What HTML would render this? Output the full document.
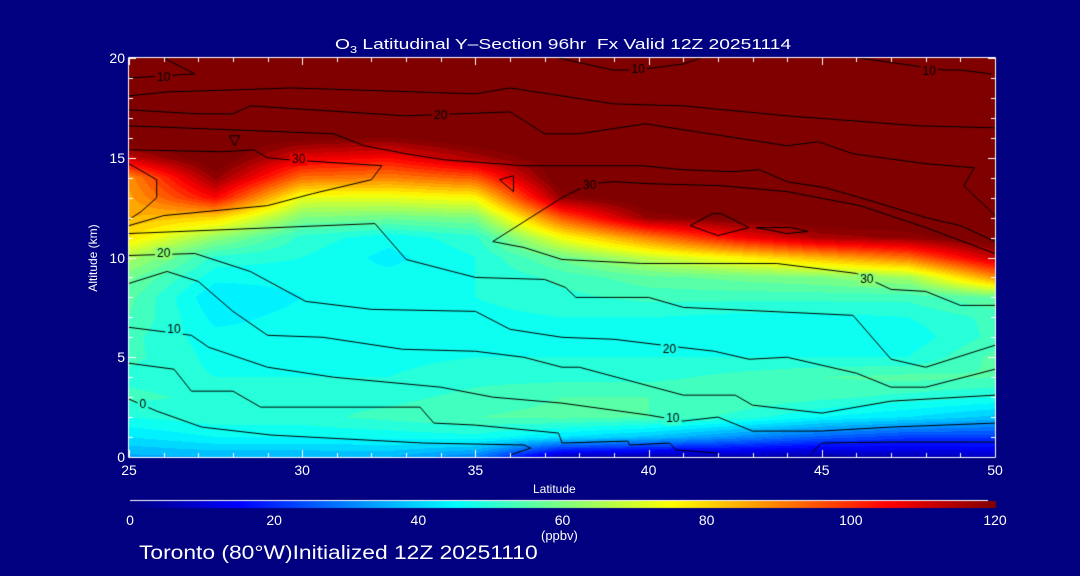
<!DOCTYPE html>
<html><head><meta charset="utf-8"><style>
html,body{margin:0;padding:0;background:#000080;}
#wrap{position:relative;width:1080px;height:576px;background:#000080;overflow:hidden;font-family:"Liberation Sans",sans-serif;color:#fff;}
.t{position:absolute;white-space:nowrap;font-size:13px;line-height:1;}
canvas{position:absolute;left:0;top:0;}
</style></head><body>
<div id="wrap">
<canvas id="cv" width="1080" height="576"></canvas>
<div class="t" style="left:335px;top:37px;font-size:15px;transform-origin:0 0;transform:scaleX(1.28);">O<sub style="font-size:10px">3</sub> Latitudinal Y&#8211;Section 96hr&nbsp; Fx Valid 12Z 20251114</div>
<div class="t" style="left:48px;top:252px;transform:rotate(-90deg);width:90px;text-align:center;font-size:12px;">Altitude (km)</div>
<div class="t" style="left:533px;top:483px;font-size:12px;">Latitude</div>
<div class="t" style="left:541px;top:529px;font-size:13px;">(ppbv)</div>
<div class="t" style="left:139px;top:544px;font-size:19px;transform-origin:0 0;transform:scaleX(1.2);">Toronto (80°W)Initialized 12Z 20251110</div>
<div id="labels"></div>
</div>
<script>
const lats=[25,27.5,30,32.5,35,37.5,40,42.5,45,47.5,50];
const alts=[0,1,2,3,4,5,6,7,8,9,10,11,12,13,14,15,16,17,18,19,20];
const col25=[35,42,48,52,50,52,52,54,55,58,65,78,84,86,88,112,125,125,125,125,125];
const col275=[36,45,50,50,48,47,46,44,42,46,50,62,80,105,118,125,125,125,125,125,125];
const col30=[36,45,50,50,48,47,46,46,45,46,48,50,60,72,92,108,122,125,125,125,125];
const col325=[36,46,52,50,48,47,47,47,46,46,44,46,58,72,90,105,120,125,125,125,125];
const col35=[30,47,54,52,50,48,47,47,48,48,48,50,60,75,95,115,125,125,125,125,125];
const col375=[6,42,55,54,50,48,47,48,50,52,58,74,95,118,125,125,125,125,125,125,125];
const col40=[4,38,54,54,50,48,47,48,52,56,68,90,118,125,125,125,125,125,125,125,125];
const col425=[5,32,50,54,52,48,46,47,52,58,76,105,122,125,125,125,125,125,125,125,125];
const col45=[4,26,45,52,54,48,45,47,52,60,84,115,125,125,125,125,125,125,125,125,125];
const col475=[6,22,42,50,55,48,46,48,52,64,92,118,125,125,125,125,125,125,125,125,125];
const col50=[8,22,38,48,54,55,52,52,57,88,112,125,125,125,125,125,125,125,125,125,125];
const columns=[col25,col275,col30,col325,col35,col375,col40,col425,col45,col475,col50];
const xTicks=[25,30,35,40,45,50];
const yTicks=[0,5,10,15,20];
const cbTicks=[0,20,40,60,80,100,120];
const cTop1=[[25,19.0],[26.9,19.2],[26.0,20.0]];
const cTop2=[[37.4,20.0],[38.96,19.4],[39.65,19.4],[41.0,19.7],[41.5,20.0]];
const cTop3=[[46.1,20],[48.5,19.4],[49.0,19.4],[49.9,19.2]];
const cB=[[25,18.1],[26.1,18.3],[28,18.4],[29.7,18.5],[35,18.2],[36,18.5],[37.5,18.1],[39,17.7],[41,17.6],[44,17.1],[47.8,16.6],[50,16.5]];
const cC=[[25,17.4],[27,17.2],[28,17.2],[28.5,17.6],[33,17.1],[36,17.3],[37,16.2],[38,16.2],[39.9,16.7],[44,15.6],[44.9,15.8],[45.9,15.2],[48,14.7],[49.4,14.5],[49.1,13.6],[50,12.1]];
const cD=[[25,16.6],[30.9,16.2],[31.8,15.6],[33,15.2],[34.1,14.9],[36.4,14.6],[39.8,14.6],[41,14.4],[42.4,14.3],[43.2,14.4],[44,13.8],[45.1,13.5],[46.5,12.8],[48,12.0],[49,11.6],[50,10.8]];
const cEleft=[[25,15.4],[27.7,15.3],[28.6,15.4],[29,15.0],[29.6,14.9],[32.3,14.6],[32.0,13.9],[30.3,13.2],[29,12.6],[26,12.1],[25,11.6]];
const cLoop=[[25,14.7],[25.8,13.9],[25.8,13.0],[25.35,12.3],[25,11.9]];
const cEright=[[50,7.6],[49,7.6],[48,8.3],[47,8.4],[46,9.2],[43.7,9.7],[39.8,9.7],[37.5,9.9],[36.4,10.5],[35.5,10.8],[37.5,13.0],[38.3,13.7],[39,13.8],[40,13.7],[42.1,13.6],[44,13.3],[46.1,12.6],[48,11.5],[50,10.2]];
const cF=[[25,11.2],[32.1,11.7],[33,9.9],[35,9.0],[37,8.9],[37.6,8.5],[37.9,8.0],[40,8.0],[41,7.5],[45.9,7.1],[47,4.9],[48,4.5],[50,5.6]];
const cG=[[25,10.1],[26.9,10.2],[28.5,9.3],[30.1,7.8],[32,7.4],[35,7.3],[36,6.4],[37.5,6.0],[39,5.9],[40.9,5.5],[41.9,5.3],[42.9,4.9],[44,5.0],[46,4.2],[47,3.5],[48,3.5],[50,4.4]];
const cJ=[[25,8.7],[26.1,9.3],[27,8.8],[28,7.3],[29,6.1],[30.6,6.0],[32.9,5.4],[35,5.3],[36.4,5.0],[37.5,4.5],[38,4.5],[41,3.1],[42.5,3.1],[43,2.6],[45,2.2],[47,2.8],[50,3.1]];
const cH=[[25,6.5],[26.8,6.1],[27.3,5.5],[29,4.5],[30.9,4.0],[34,3.5],[35.5,3.0],[37.5,2.7],[40,2.1],[41,1.8],[42,2.0],[43,1.3],[45,1.3],[47,1.5],[50,1.7]];
const cI=[[25,4.7],[26.3,4.4],[26.8,3.3],[28,3.3],[28.8,2.5],[30.6,2.5],[33.4,2.5],[33.8,1.7],[35,1.6],[37.4,1.2],[37.5,0.7],[39.4,0.8],[39.45,0.6],[40.6,0.7],[40.8,0.35],[42,0.2]];
const cK=[[44.7,0.2],[45,0.7],[47,0.75],[50,0.75]];
const cZero=[[25,2.9],[25.8,2.3],[27.1,1.5],[29.1,1.1],[33.5,0.7],[36.4,0.6],[36.6,0.45],[36,0.1]];
const cS1=[[27.9,16.1],[28.2,16.1],[28.05,15.6],[27.9,16.1]];
const cS2=[[35.7,13.9],[36.1,14.1],[36.1,13.3],[35.7,13.9]];
const cS3=[[41.2,11.6],[41.85,12.2],[42.1,12.2],[42.9,11.5],[42.0,11.1],[41.2,11.6]];
const cS4=[[43.1,11.5],[44.1,11.5],[44.6,11.3],[44.0,11.2],[43.1,11.5]];
const contours=[cTop1,cTop2,cTop3,cB,cC,cD,cEleft,cLoop,cEright,cF,cG,cJ,cH,cI,cK,cZero,cS1,cS2,cS3,cS4];
const cLabels=[["10",26.0,19.0],["20",34.0,17.1],["30",29.9,14.9],["20",26.0,10.2],["10",26.3,6.4],["0",25.4,2.6],["10",39.7,19.4],["10",48.1,19.3],["30",38.3,13.6],["30",46.3,8.9],["20",40.6,5.4],["10",40.7,1.9]];

const X0=129,X1=995,Y0=58,Y1=457,LAT0=25,LAT1=50,ALT0=0,ALT1=20,VMAX=120;
function xs(l){return X0+(l-LAT0)/(LAT1-LAT0)*(X1-X0);}
function ys(a){return Y1-(a-ALT0)/(ALT1-ALT0)*(Y1-Y0);}
function jet(v){let t=Math.max(0,Math.min(1,v/VMAX));const c=x=>Math.round(255*Math.max(0,Math.min(1,x)));
return [c(1.5-Math.abs(4*t-3)),c(1.5-Math.abs(4*t-2)),c(1.5-Math.abs(4*t-1))];}
function val(lat,alt){
 let fi=(lat-lats[0])/(lats[1]-lats[0]);fi=Math.max(0,Math.min(lats.length-1.0001,fi));
 let fj=(alt-alts[0])/(alts[1]-alts[0]);fj=Math.max(0,Math.min(alts.length-1.0001,fj));
 const i=Math.floor(fi),j=Math.floor(fj),u=fi-i,w=fj-j;
 const a=columns[i][j],b=columns[i+1][j],c=columns[i][j+1],d=columns[i+1][j+1];
 return (a*(1-u)+b*u)*(1-w)+(c*(1-u)+d*u)*w;}
const cv=document.getElementById('cv');const ctx=cv.getContext('2d');
const W=X1-X0,H=Y1-Y0;const img=ctx.createImageData(W,H);
for(let py=0;py<H;py++){const alt=ALT1-(py+0.5)/H*(ALT1-ALT0);
 for(let px=0;px<W;px++){const lat=LAT0+(px+0.5)/W*(LAT1-LAT0);
  let v=val(lat,alt);v=Math.floor(v/3)*3+1.5;const c=jet(v);const k=(py*W+px)*4;
  img.data[k]=c[0];img.data[k+1]=c[1];img.data[k+2]=c[2];img.data[k+3]=255;}}
ctx.putImageData(img,X0,Y0);
ctx.strokeStyle='#000';ctx.lineWidth=1;
contours.forEach(line=>{ctx.beginPath();line.forEach((p,i)=>{const x=xs(p[0]),y=ys(p[1]);i?ctx.lineTo(x,y):ctx.moveTo(x,y);});ctx.stroke();});
ctx.font='12px "Liberation Sans",sans-serif';ctx.textAlign='center';ctx.textBaseline='middle';
cLabels.forEach(l=>{const x=xs(l[1]),y=ys(l[2]);const c=jet(val(l[1],l[2]));
 const w=ctx.measureText(l[0]).width+4;ctx.fillStyle=`rgb(${c[0]},${c[1]},${c[2]})`;ctx.fillRect(x-w/2,y-6,w,12);
 ctx.fillStyle='#000';ctx.fillText(l[0],x,y);});
ctx.strokeStyle='#fff';ctx.lineWidth=1;
ctx.beginPath();ctx.moveTo(X0-0.5,Y1+0.5);ctx.lineTo(X0-0.5,Y0-0.5);ctx.lineTo(X1+0.5,Y0-0.5);ctx.lineTo(X1+0.5,Y1+0.5);ctx.lineTo(X0-0.5,Y1+0.5);ctx.stroke();
for(let l=LAT0;l<=LAT1;l++){const x=Math.round(xs(l))+0.5;const len=(l%5===0)?7:4;
 ctx.beginPath();ctx.moveTo(x,Y1);ctx.lineTo(x,Y1-len);ctx.stroke();ctx.beginPath();ctx.moveTo(x,Y0);ctx.lineTo(x,Y0+len);ctx.stroke();}
for(let a=ALT0;a<=ALT1;a++){const y=Math.round(ys(a))+0.5;const len=(a%5===0)?7:4;
 ctx.beginPath();ctx.moveTo(X0,y);ctx.lineTo(X0+len,y);ctx.stroke();ctx.beginPath();ctx.moveTo(X1,y);ctx.lineTo(X1-len,y);ctx.stroke();}
const CB0=130,CB1=996,CBY=501,CBH=7;
for(let px=CB0;px<CB1;px++){const c=jet((px-CB0)/(CB1-CB0)*VMAX);ctx.fillStyle=`rgb(${c[0]},${c[1]},${c[2]})`;ctx.fillRect(px,CBY,1,CBH);}
ctx.fillStyle='#fff';ctx.fillRect(CB0,CBY-1,CB1-CB0-8,1);
const lab=document.getElementById('labels');
function addLabel(txt,x,y,name,align){const d=document.createElement('div');d.className='t';d.textContent=txt;
 d.style.top=y+'px';d.style.fontSize='14px';
 if(align==='c'){d.style.left=(x-20)+'px';d.style.width='40px';d.style.textAlign='center';}
 else{d.style.left=(x-40)+'px';d.style.width='40px';d.style.textAlign='right';}
 
 
 lab.appendChild(d);}
xTicks.forEach(t=>addLabel(String(t),xs(t),463,'x-tick-label','c'));
yTicks.forEach(t=>addLabel(String(t),125,ys(t)-7,'y-tick-label','r'));
cbTicks.forEach(t=>addLabel(String(t),CB0+t/VMAX*(CB1-CB0-1),513,'colorbar-tick-label','c'));
</script>
</body></html>
